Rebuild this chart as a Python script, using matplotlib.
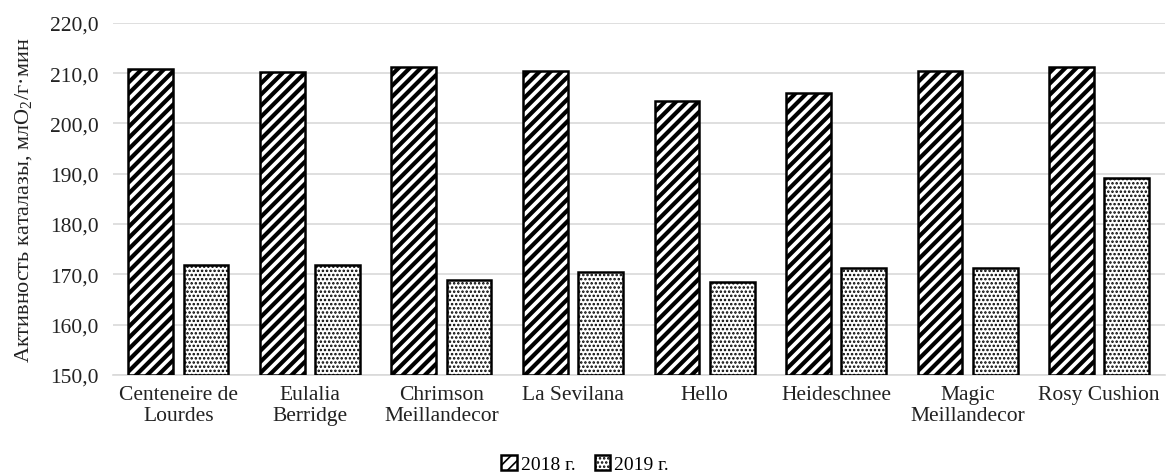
import numpy as np
import matplotlib
matplotlib.use("Agg")
import matplotlib.pyplot as plt

plt.rcParams['font.family'] = ['Liberation Serif', 'DejaVu Serif']
plt.rcParams['mathtext.fontset'] = 'custom'
plt.rcParams['mathtext.rm'] = 'Liberation Serif'
plt.rcParams['hatch.color'] = 'black'

varieties = ["Centeneire de\nLourdes", "Eulalia\nBerridge", "Chrimson\nMeillandecor",
             "La Sevilana", "Hello", "Heideschnee", "Magic\nMeillandecor", "Rosy Cushion"]
act_2018 = [210.8, 210.2, 211.2, 210.5, 204.4, 206.0, 210.5, 211.2]
act_2019 = [171.8, 171.8, 168.8, 170.5, 168.5, 171.2, 171.2, 189.2]
series = ["2018 г.", "2019 г."]

fig = plt.figure(figsize=(11.72, 4.77), dpi=100)
ax = fig.add_axes([0.096, 0.212, 0.898, 0.738])

x = np.arange(len(varieties))
w = 0.34
gap = 0.04

plt.rcParams['hatch.linewidth'] = 3.0
b1 = ax.bar(x - w / 2 - gap, np.array(act_2018) - 150, w, bottom=150,
            color='white', edgecolor='black', linewidth=1.8, hatch='///',
            label=series[0], zorder=3)
plt.rcParams['hatch.linewidth'] = 1.2
b2 = ax.bar(x + w / 2 + gap, np.array(act_2019) - 150, w, bottom=150,
            color='white', edgecolor='black', linewidth=1.8, hatch='....',
            label=series[1], zorder=3)
for p in b1:
    if hasattr(p, 'set_hatch_linewidth'):
        p.set_hatch_linewidth(3.0)
for p in b2:
    if hasattr(p, 'set_hatch_linewidth'):
        p.set_hatch_linewidth(1.2)

ax.set_ylim(150, 220)
ax.set_xlim(-0.5, len(varieties) - 0.5)
ax.set_yticks(np.arange(150, 221, 10))
ax.set_yticklabels([f"{v:.1f}".replace('.', ',') for v in np.arange(150, 221, 10)])
ax.set_xticks(x)
ax.set_xticklabels(varieties)
ax.tick_params(axis='both', length=0, labelsize=15.5, colors='#222222')
ax.tick_params(axis='x', pad=7)
ax.tick_params(axis='y', pad=10)

ax.grid(axis='y', color='#d9d9d9', linewidth=1.2, zorder=0)
for s in ['top', 'right', 'left']:
    ax.spines[s].set_visible(False)
ax.spines['bottom'].set_color('#d9d9d9')
ax.spines['bottom'].set_linewidth(1.2)

ax.set_ylabel("Активность каталазы, млО$_{\\mathrm{2}}$/г·мин", fontsize=16, color='#222222')
ax.yaxis.set_label_coords(-0.074, 0.5)

ax.legend(loc='center', bbox_to_anchor=(0.449, -0.253), ncol=2, frameon=False,
          fontsize=14, handlelength=0.8, handleheight=0.8, handletextpad=0.2,
          columnspacing=1.0)

fig.savefig("out.png", dpi=100)
